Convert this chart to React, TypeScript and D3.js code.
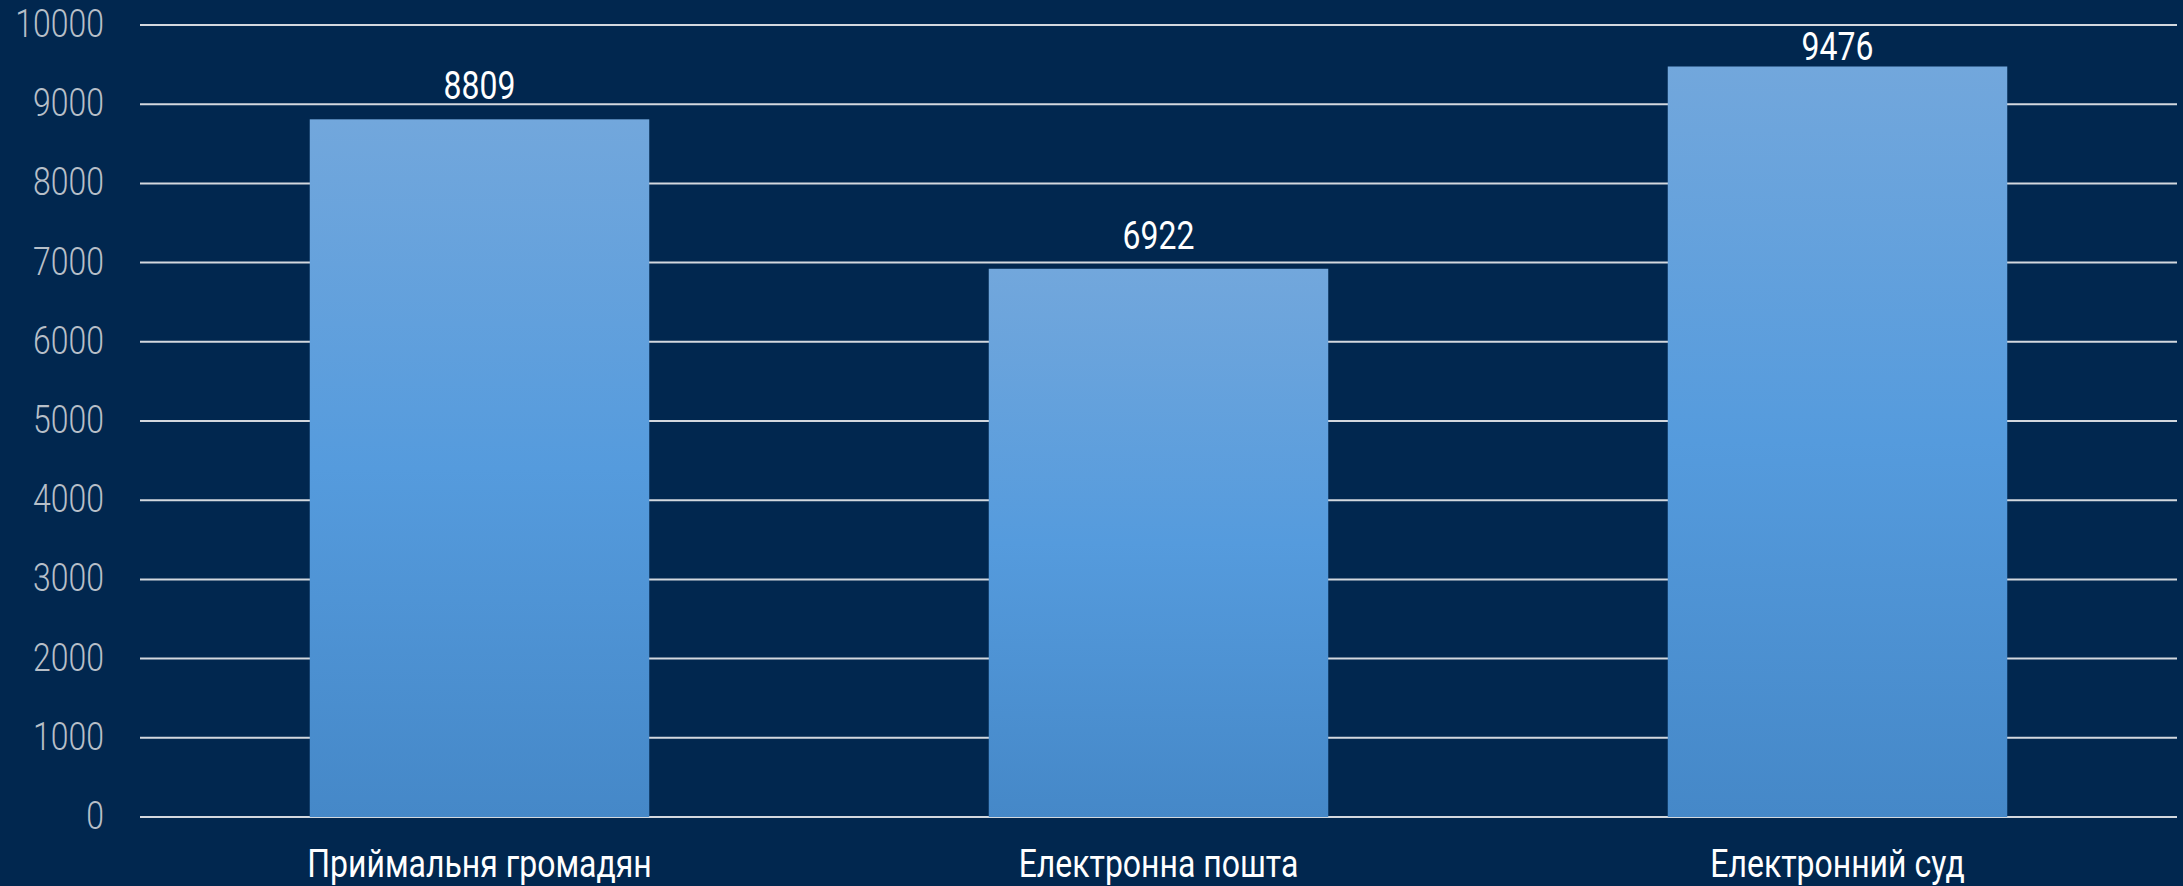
import React, { useEffect, useRef } from 'react';
import * as d3 from 'd3';

const categories = ['Приймальня громадян', 'Електронна пошта', 'Електронний суд'];
const values = [8809, 6922, 9476];
const yTicks = [0, 1000, 2000, 3000, 4000, 5000, 6000, 7000, 8000, 9000, 10000];

const W = 2183;
const H = 886;
const margin = { top: 25, right: 6, bottom: 69, left: 140 };
const condense = 0.82; // narrow look of the original font

const App = () => {
  const ref = useRef<SVGSVGElement>(null);

  useEffect(() => {
    const svg = d3.select(ref.current);
    svg.selectAll('*').remove();

    const x = d3.scaleBand<string>()
      .domain(categories)
      .range([margin.left, W - margin.right])
      .paddingInner(0.5)
      .paddingOuter(0.25);

    const y = d3.scaleLinear()
      .domain([0, 10000])
      .range([H - margin.bottom, margin.top]);

    svg.append('rect').attr('width', W).attr('height', H).attr('fill', '#01274f');

    const grad = svg.append('defs').append('linearGradient')
      .attr('id', 'barGrad')
      .attr('x1', 0).attr('y1', 0).attr('x2', 0).attr('y2', 1);
    grad.append('stop').attr('offset', '0%').attr('stop-color', '#72a7dc');
    grad.append('stop').attr('offset', '50%').attr('stop-color', '#559bdd');
    grad.append('stop').attr('offset', '100%').attr('stop-color', '#4588c8');

    // gridlines
    svg.append('g')
      .selectAll('line')
      .data(yTicks)
      .enter()
      .append('line')
      .attr('x1', margin.left)
      .attr('x2', W - margin.right)
      .attr('y1', d => y(d))
      .attr('y2', d => y(d))
      .attr('stroke', '#d3d8de')
      .attr('stroke-width', 2);

    // tick labels
    svg.append('g')
      .selectAll('text')
      .data(yTicks)
      .enter()
      .append('text')
      .attr('transform', d => `translate(104,${y(d) + 12}) scale(${condense},1)`)
      .attr('text-anchor', 'end')
      .attr('font-family', 'Roboto')
      .attr('font-weight', 300)
      .attr('font-size', 39)
      .attr('fill', '#b7bfc8')
      .text(d => d);

    // bars
    svg.append('g')
      .selectAll('rect')
      .data(values)
      .enter()
      .append('rect')
      .attr('x', (d, i) => x(categories[i])!)
      .attr('y', d => y(d))
      .attr('width', x.bandwidth())
      .attr('height', d => y(0) - y(d))
      .attr('fill', 'url(#barGrad)');

    // value labels (kept inside the plot, below the top gridline)
    const minBaseline = margin.top + 35;
    svg.append('g')
      .selectAll('text')
      .data(values)
      .enter()
      .append('text')
      .attr('transform', (d, i) =>
        `translate(${x(categories[i])! + x.bandwidth() / 2},${Math.max(y(d) - 20, minBaseline)}) scale(${condense},1)`)
      .attr('text-anchor', 'middle')
      .attr('font-family', 'Roboto')
      .attr('font-size', 39)
      .attr('fill', '#ffffff')
      .text(d => d);

    // category labels
    svg.append('g')
      .selectAll('text')
      .data(categories)
      .enter()
      .append('text')
      .attr('transform', d => `translate(${x(d)! + x.bandwidth() / 2},877) scale(${condense},1)`)
      .attr('text-anchor', 'middle')
      .attr('font-family', 'Roboto')
      .attr('font-size', 39)
      .attr('fill', '#ffffff')
      .text(d => d);
  }, []);

  return (
    <svg
      ref={ref}
      width={W}
      height={H}
      style={{ position: 'absolute', left: 0, top: 0, display: 'block' }}
    />
  );
};

export default App;
